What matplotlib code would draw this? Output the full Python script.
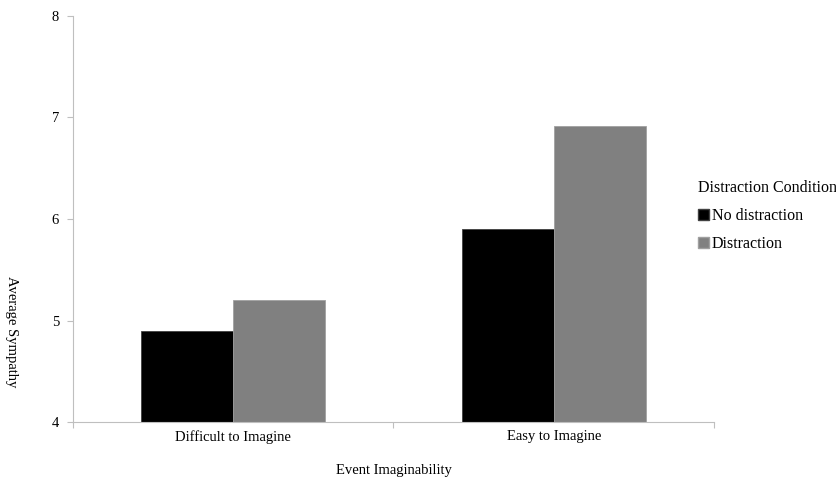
import matplotlib.pyplot as plt
import numpy as np
from matplotlib.patches import Patch

plt.rcParams['font.family'] = ['Liberation Serif', 'DejaVu Serif']

categories = ['Difficult to Imagine', 'Easy to Imagine']
no_distraction = [4.9, 5.9]
distraction = [5.2, 6.92]
series_names = ['No distraction', 'Distraction']

fig = plt.figure(figsize=(8.37, 4.8), dpi=100)
ax = fig.add_axes([0.0872, 0.1208, 0.7658, 0.8459])

x = np.arange(len(categories))
w = 0.2875
ax.bar(x - w / 2, no_distraction, w, color='black', edgecolor='#404040', linewidth=0.6)
ax.bar(x + w / 2, distraction, w, color='#808080', edgecolor='#a0a0a0', linewidth=0.6)

ax.set_ylim(4, 8)
ax.set_xlim(-0.5, 1.5)
ax.set_yticks([4, 5, 6, 7, 8])
ax.set_xticks([-0.5, 0.5, 1.5])
ax.set_xticklabels([])
ax.set_xticks(x, minor=True)
ax.set_xticklabels(categories, minor=True, fontsize=10.5)
ax.tick_params(axis='x', which='minor', length=0, pad=6)
ax.tick_params(axis='x', which='major', length=4, color='#bfbfbf')
ax.tick_params(axis='y', length=4, color='#bfbfbf', labelsize=10.5, pad=6)

for s in ['top', 'right']:
    ax.spines[s].set_visible(False)
for s in ['left', 'bottom']:
    ax.spines[s].set_color('#bfbfbf')

ax.set_xlabel('Event Imaginability', fontsize=10.5, labelpad=14)
fig.text(0.014, 0.31, 'Average Sympathy', rotation=270, fontsize=10.5,
         ha='center', va='center')

handles = [Patch(facecolor='black', edgecolor='#404040'),
           Patch(facecolor='#808080', edgecolor='#a0a0a0')]
leg = fig.legend(handles, series_names, title='Distraction Condition',
                 loc='upper left', bbox_to_anchor=(0.817, 0.655),
                 frameon=False, fontsize=11.5, title_fontsize=11.5,
                 handlelength=0.65, handleheight=0.65, handletextpad=0.2,
                 labelspacing=0.75, alignment='left')

fig.savefig('out.png', dpi=100)
